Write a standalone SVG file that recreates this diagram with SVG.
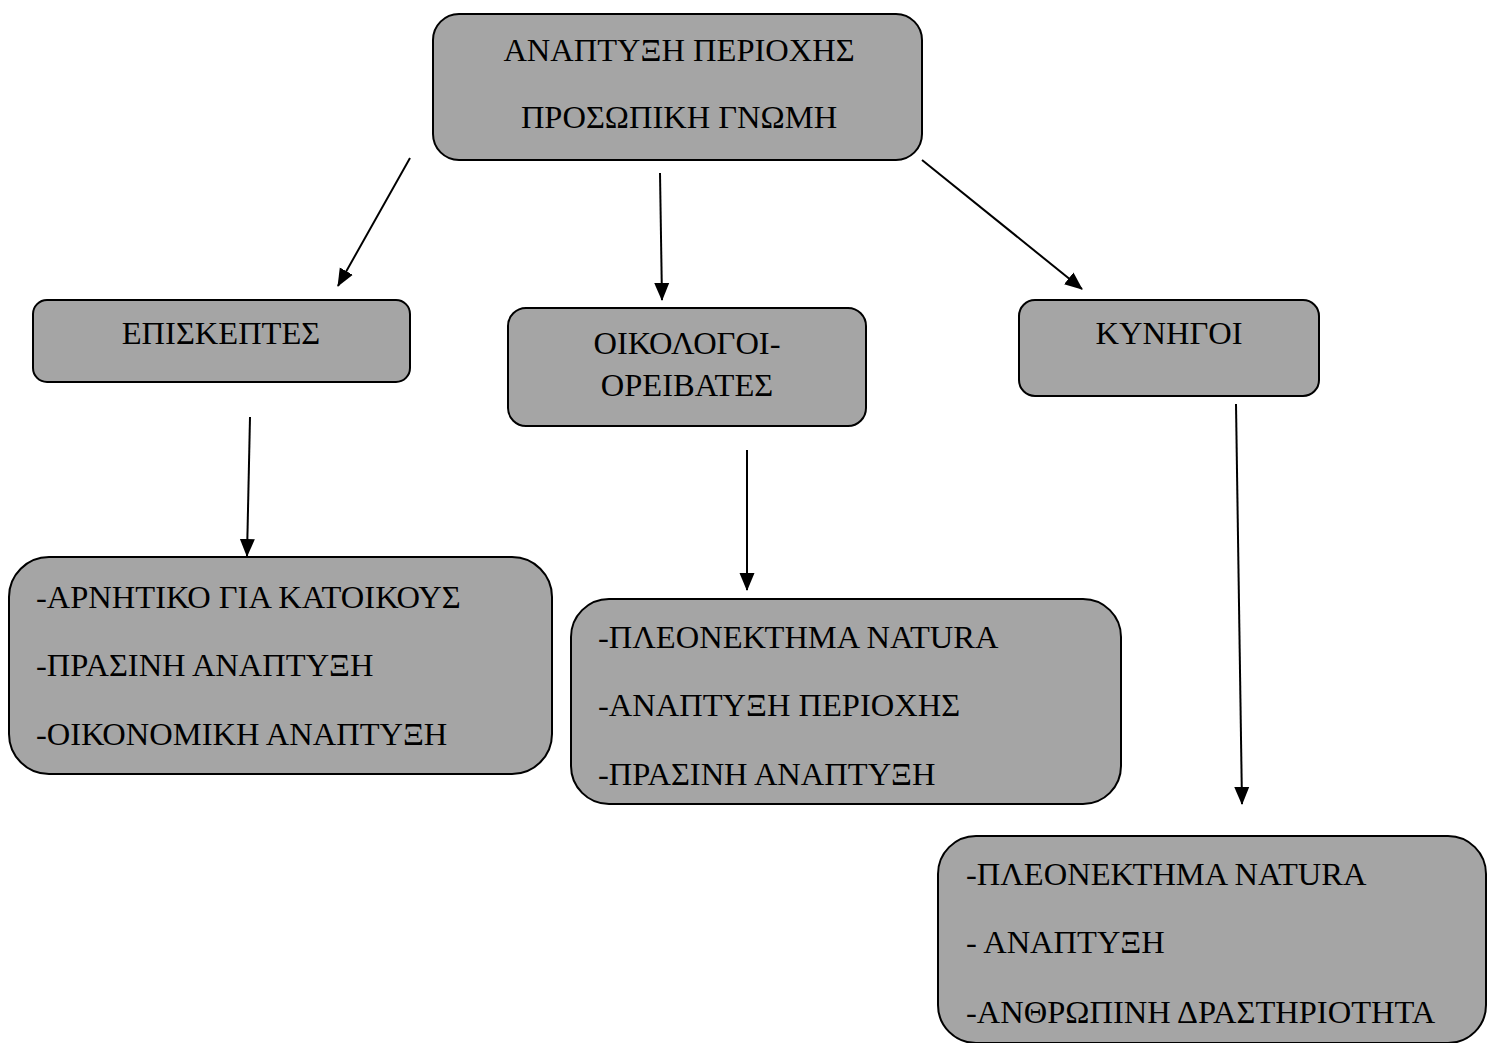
<svg xmlns="http://www.w3.org/2000/svg" width="1491" height="1043" viewBox="0 0 1491 1043">
  <style>
    .box { fill: #a5a5a5; stroke: #000; stroke-width: 2; }
    .t { font-family: "Liberation Serif", "Times New Roman", serif; font-size: 32.5px; fill: #000; }
    .c { text-anchor: middle; }
    .edge { stroke: #000; stroke-width: 2; fill: none; marker-end: url(#arrow); }
  </style>
  <defs>
    <marker id="arrow" markerUnits="userSpaceOnUse" markerWidth="18" markerHeight="18" viewBox="0 0 18 18" refX="17" refY="9" orient="auto">
      <path d="M0,1.5 L18,9 L0,16.5 Z" fill="#000"/>
    </marker>
  </defs>
  <rect width="1491" height="1043" fill="#fff"/>

  <g id="connectors">
    <line class="edge" x1="410" y1="158" x2="338" y2="286"/>
    <line class="edge" x1="660" y1="173" x2="662" y2="300"/>
    <line class="edge" x1="922" y1="160" x2="1082" y2="289"/>
    <line class="edge" x1="250" y1="417" x2="247" y2="556"/>
    <line class="edge" x1="747" y1="450" x2="747" y2="590"/>
    <line class="edge" x1="1236" y1="404" x2="1242" y2="804"/>
  </g>

  <g id="node-root">
    <rect class="box" x="433" y="14" width="489" height="146" rx="26"/>
    <text class="t c" x="679" y="61">ΑΝΑΠΤΥΞΗ ΠΕΡΙΟΧΗΣ</text>
    <text class="t c" x="679" y="128">ΠΡΟΣΩΠΙΚΗ ΓΝΩΜΗ</text>
  </g>

  <g id="node-visitors">
    <rect class="box" x="33" y="300" width="377" height="82" rx="14"/>
    <text class="t c" x="221" y="344">ΕΠΙΣΚΕΠΤΕΣ</text>
  </g>

  <g id="node-ecologists">
    <rect class="box" x="508" y="308" width="358" height="118" rx="18"/>
    <text class="t c" x="687" y="354">ΟΙΚΟΛΟΓΟΙ-</text>
    <text class="t c" x="687" y="396">ΟΡΕΙΒΑΤΕΣ</text>
  </g>

  <g id="node-hunters">
    <rect class="box" x="1019" y="300" width="300" height="96" rx="16"/>
    <text class="t c" x="1169" y="344">ΚΥΝΗΓΟΙ</text>
  </g>

  <g id="node-visitors-views">
    <rect class="box" x="9" y="557" width="543" height="217" rx="40"/>
    <text class="t" x="36" y="608">-ΑΡΝΗΤΙΚΟ ΓΙΑ ΚΑΤΟΙΚΟΥΣ</text>
    <text class="t" x="36" y="676">-ΠΡΑΣΙΝΗ ΑΝΑΠΤΥΞΗ</text>
    <text class="t" x="36" y="745">-ΟΙΚΟΝΟΜΙΚΗ ΑΝΑΠΤΥΞΗ</text>
  </g>

  <g id="node-ecologists-views">
    <rect class="box" x="571" y="599" width="550" height="205" rx="38"/>
    <text class="t" x="598" y="648">-ΠΛΕΟΝΕΚΤΗΜΑ NATURA</text>
    <text class="t" x="598" y="716">-ΑΝΑΠΤΥΞΗ ΠΕΡΙΟΧΗΣ</text>
    <text class="t" x="598" y="785">-ΠΡΑΣΙΝΗ ΑΝΑΠΤΥΞΗ</text>
  </g>

  <g id="node-hunters-views">
    <rect class="box" x="938" y="836" width="548" height="207" rx="38"/>
    <text class="t" x="966" y="885">-ΠΛΕΟΝΕΚΤΗΜΑ NATURA</text>
    <text class="t" x="966" y="953">- ΑΝΑΠΤΥΞΗ</text>
    <text class="t" x="966" y="1023">-ΑΝΘΡΩΠΙΝΗ ΔΡΑΣΤΗΡΙΟΤΗΤΑ</text>
  </g>
</svg>
